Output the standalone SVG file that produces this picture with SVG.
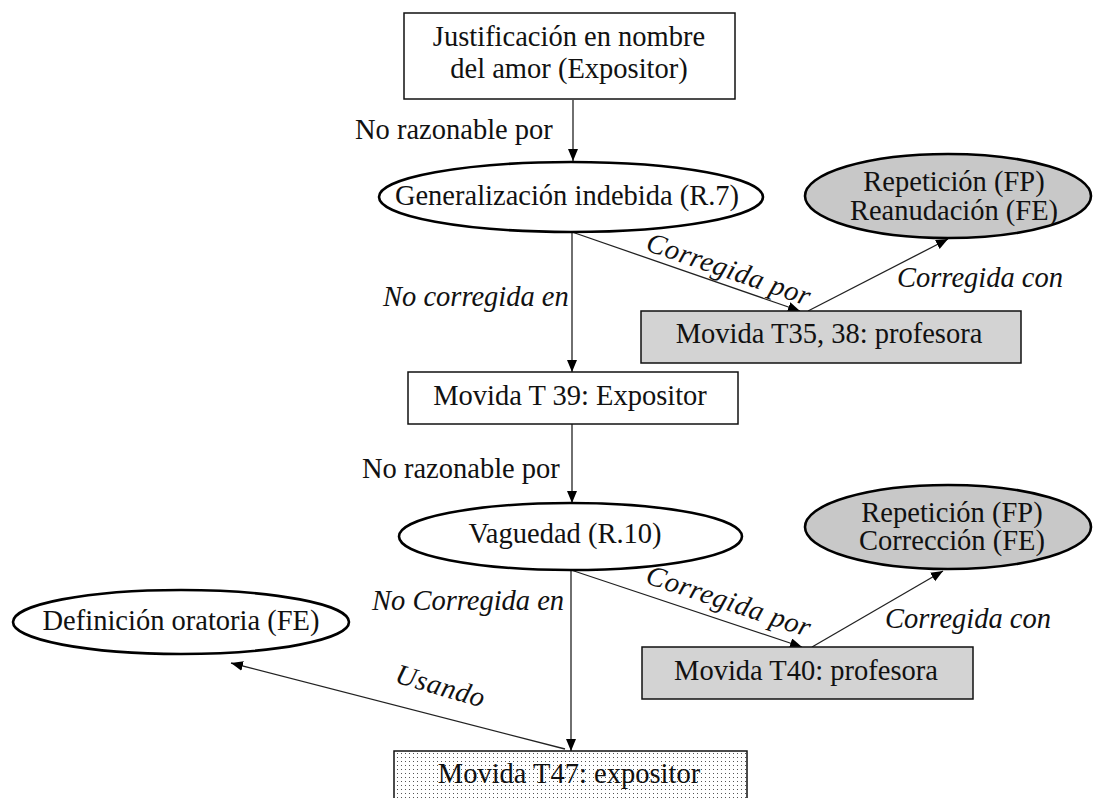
<svg xmlns="http://www.w3.org/2000/svg" width="1093" height="798" viewBox="0 0 1093 798">
  <style>
    text { font-family: "Liberation Serif", "Times New Roman", serif; font-size: 28.5px; fill: #111; }
    .c { text-anchor: middle; }
    .it { font-style: italic; }
    .box { fill: #fff; stroke: #111; stroke-width: 1.5; }
    .gbox { fill: #d3d3d3; stroke: #111; stroke-width: 1.5; }
    .ell { fill: #fff; stroke: #000; stroke-width: 2.6; }
    .gell { fill: #c8c8c8; stroke: #000; stroke-width: 2.6; }
    .edge { fill: none; stroke: #222; stroke-width: 1.3; marker-end: url(#arrow); }
  </style>
  <defs>
    <marker id="arrow" markerUnits="userSpaceOnUse" markerWidth="13" markerHeight="11" refX="12" refY="5" orient="auto">
      <path d="M0,0 L12,5 L0,10 z" fill="#000"/>
    </marker>
    <pattern id="dots" width="4" height="4" patternUnits="userSpaceOnUse">
      <rect width="4" height="4" fill="#fff"/>
      <rect x="1" y="1" width="1" height="1" fill="#555"/>
    </pattern>
  </defs>

  <rect width="1093" height="798" fill="#fff"/>

  <!-- connectors and their labels -->
  <g id="connectors">
    <line class="edge" x1="573" y1="100" x2="573" y2="161"/>
    <text x="355" y="139">No razonable por</text>

    <line class="edge" x1="572" y1="232" x2="572" y2="372"/>
    <text class="it" x="383" y="306">No corregida en</text>

    <line class="edge" x1="572" y1="232" x2="800" y2="311"/>
    <text class="it c" x="726" y="278" transform="rotate(19 726 278)" letter-spacing="0.6">Corregida por</text>

    <line class="edge" x1="808" y1="311" x2="948" y2="239"/>
    <text class="it" x="897" y="287">Corregida con</text>

    <line class="edge" x1="572" y1="424" x2="572" y2="503"/>
    <text x="362" y="478">No razonable por</text>

    <line class="edge" x1="571" y1="570" x2="571" y2="751"/>
    <text class="it" x="372" y="610">No Corregida en</text>

    <line class="edge" x1="571" y1="570" x2="802" y2="647"/>
    <text class="it c" x="726" y="610" transform="rotate(18.5 726 610)" letter-spacing="0.6">Corregida por</text>

    <line class="edge" x1="812" y1="647" x2="943" y2="571"/>
    <text class="it" x="885" y="628">Corregida con</text>

    <line class="edge" x1="565" y1="749" x2="231" y2="663"/>
    <text class="it c" x="438" y="695" transform="rotate(16 438 695)" letter-spacing="0.6">Usando</text>
  </g>

  <g id="justificacion">
    <rect class="box" x="404" y="13" width="331" height="86"/>
    <text class="c" x="569" y="46">Justificación en nombre</text>
    <text class="c" x="569" y="78">del amor (Expositor)</text>
  </g>

  <g id="generalizacion">
    <ellipse class="ell" cx="571" cy="197" rx="192" ry="35"/>
    <text class="c" x="567" y="205">Generalización indebida (R.7)</text>
  </g>

  <g id="reanudacion">
    <ellipse class="gell" cx="948" cy="196" rx="143" ry="42"/>
    <text class="c" x="954" y="191">Repetición (FP)</text>
    <text class="c" x="954" y="220">Reanudación (FE)</text>
  </g>

  <g id="movida-t35">
    <rect class="gbox" x="641" y="311" width="380" height="52"/>
    <text class="c" x="829" y="343">Movida T35, 38: profesora</text>
  </g>

  <g id="movida-t39">
    <rect class="box" x="408" y="372" width="330" height="52"/>
    <text class="c" x="570" y="405">Movida T 39: Expositor</text>
  </g>

  <g id="vaguedad">
    <ellipse class="ell" cx="570.5" cy="536.5" rx="171.5" ry="33.5"/>
    <text class="c" x="565" y="543">Vaguedad (R.10)</text>
  </g>

  <g id="correccion">
    <ellipse class="gell" cx="948" cy="527" rx="143" ry="42"/>
    <text class="c" x="952" y="522">Repetición (FP)</text>
    <text class="c" x="952" y="550">Corrección (FE)</text>
  </g>

  <g id="definicion">
    <ellipse class="ell" cx="181" cy="622" rx="168" ry="32"/>
    <text class="c" x="181" y="630">Definición oratoria (FE)</text>
  </g>

  <g id="movida-t40">
    <rect class="gbox" x="642" y="647" width="331" height="52"/>
    <text class="c" x="806" y="680">Movida T40: profesora</text>
  </g>

  <g id="movida-t47">
    <rect x="394" y="751" width="353" height="60" fill="url(#dots)" stroke="#111" stroke-width="1.5"/>
    <text class="c" x="569" y="783">Movida T47: expositor</text>
  </g>
</svg>
